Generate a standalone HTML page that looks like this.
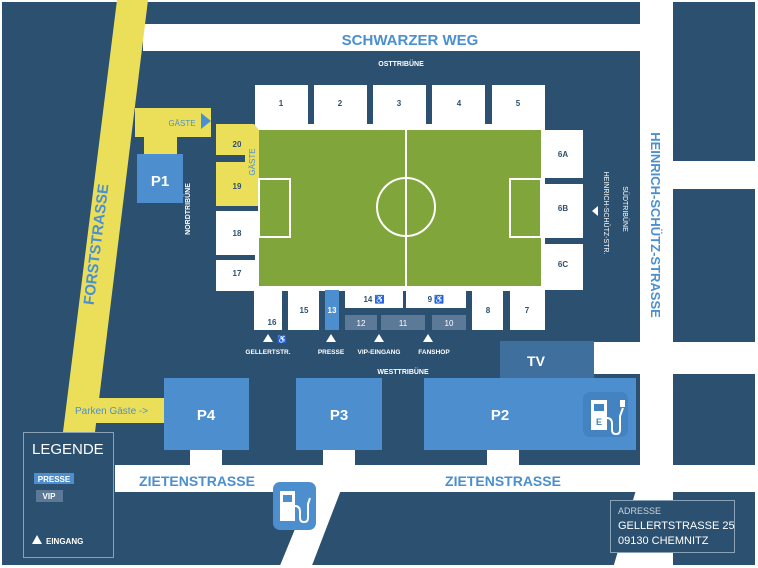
<!DOCTYPE html>
<html><head><meta charset="utf-8"><style>
html,body{margin:0;padding:0;background:#fff;}
svg{display:block;}
text{font-family:"Liberation Sans",sans-serif;}
</style></head><body>
<svg width="758" height="568" viewBox="0 0 758 568" xmlns="http://www.w3.org/2000/svg">
<rect x="0" y="0" width="758" height="568" fill="#fff"/>
<rect x="2" y="2" width="753" height="563" fill="#2c506f"/>
<!-- roads white -->
<rect x="143" y="24" width="497" height="27" fill="#fff"/>
<rect x="640" y="0" width="33" height="568" fill="#fff"/>
<rect x="673" y="161" width="85" height="28" fill="#fff"/>
<rect x="594" y="342" width="164" height="32" fill="#fff"/>
<rect x="115" y="465" width="643" height="27" fill="#fff"/>
<polygon points="311,490 341,490 311,568 279,568" fill="#fff"/>
<polygon points="636,490 671,490 646,568 613,568" fill="#fff"/>
<rect x="190" y="448" width="32" height="18" fill="#fff"/>
<rect x="323" y="448" width="32" height="18" fill="#fff"/>
<rect x="487" y="448" width="32" height="18" fill="#fff"/>
<!-- yellow Forststrasse -->
<polygon points="117,0 148,0 95,432 63,432" fill="#ebdf5a"/>
<rect x="135" y="108" width="76" height="29" fill="#ebdf5a"/>
<rect x="144" y="136" width="33" height="19" fill="#ebdf5a"/>
<polygon points="201,113 211,121 201,129" fill="#4a8fd0"/>
<text x="182" y="126" font-size="8" fill="#4a8fd0" text-anchor="middle">GÄSTE</text>
<rect x="137" y="154" width="46" height="49" fill="#4d8fce"/>
<text x="160" y="186" font-size="15" font-weight="bold" fill="#fff" text-anchor="middle">P1</text>
<text transform="translate(101,245) rotate(-83)" font-size="15" font-weight="bold" fill="#4a8fd0" text-anchor="middle">FORSTSTRASSE</text>
<!-- Parken Gäste -->
<rect x="69" y="398" width="96" height="25" fill="#ebdf5a"/>
<text x="75" y="414" font-size="10" fill="#4a8fd0">Parken Gäste -&gt;</text>
<!-- Schwarzer weg -->
<text x="410" y="45" font-size="15" font-weight="bold" fill="#4a8fd0" text-anchor="middle">SCHWARZER WEG</text>
<text x="401" y="66" font-size="7" font-weight="bold" fill="#fff" text-anchor="middle">OSTTRIBÜNE</text>
<!-- stadium -->
<rect x="255" y="124" width="290" height="167" fill="#fff"/>
<rect x="541" y="130" width="42" height="160" fill="#fff"/>
<rect x="545" y="178" width="38" height="6" fill="#2c506f"/>
<rect x="545" y="238" width="38" height="6" fill="#2c506f"/>
<rect x="216" y="206" width="43" height="85" fill="#fff"/>
<rect x="216" y="255" width="39" height="5" fill="#2c506f"/>
<g fill="#fff">
<rect x="255" y="85" width="53" height="40"/>
<rect x="314" y="85" width="53" height="40"/>
<rect x="373" y="85" width="53" height="40"/>
<rect x="432" y="85" width="53" height="40"/>
<rect x="492" y="85" width="53" height="45"/>
<rect x="254" y="290" width="28" height="40"/>
<rect x="288" y="290" width="31" height="40"/>
<rect x="345" y="290" width="58" height="18"/>
<rect x="406" y="290" width="60" height="18"/>
<rect x="472" y="290" width="31" height="40"/>
<rect x="510" y="290" width="35" height="40"/>
</g>
<rect x="216" y="206" width="43" height="5" fill="#2c506f"/>
<rect x="325" y="290" width="14" height="40" fill="#4d8fce"/>
<rect x="345" y="315" width="32" height="15" fill="#5c7a98"/>
<rect x="381" y="315" width="44" height="15" fill="#5c7a98"/>
<rect x="432" y="315" width="34" height="15" fill="#5c7a98"/>
<!-- yellow guest blocks -->
<polygon points="216,124 254,124 259,130 259,206 216,206" fill="#ebdf5a"/>
<rect x="216" y="155" width="29" height="7" fill="#2c506f"/>
<text transform="translate(255,162) rotate(-90)" font-size="8" fill="#4a8fd0" text-anchor="middle">GÄSTE</text>
<!-- pitch -->
<rect x="259" y="130" width="282" height="156" fill="#80a53a"/>
<g stroke="#fff" stroke-width="2" fill="none">
<line x1="406" y1="130" x2="406" y2="286"/>
<circle cx="406" cy="207" r="29"/>
<rect x="259" y="179" width="31" height="58"/>
<rect x="510" y="179" width="31" height="58"/>
</g>
<g font-size="8" font-weight="bold" fill="#2c506f" text-anchor="middle">
<text x="281" y="106">1</text><text x="340" y="106">2</text><text x="399" y="106">3</text><text x="459" y="106">4</text><text x="518" y="106">5</text>
<text x="563" y="157">6A</text><text x="563" y="211">6B</text><text x="563" y="267">6C</text>
<text x="237" y="147">20</text><text x="237" y="189">19</text><text x="237" y="236">18</text><text x="237" y="276">17</text>
<text x="272" y="325">16</text><text x="304" y="313">15</text><text x="488" y="313">8</text><text x="527" y="313">7</text>
<text x="374" y="302">14 ♿</text><text x="436" y="302">9 ♿</text>
</g>
<text x="332" y="313" font-size="8" font-weight="bold" fill="#fff" text-anchor="middle">13</text>
<g font-size="8" fill="#fff" text-anchor="middle"><text x="361" y="326">12</text><text x="403" y="326">11</text><text x="449" y="326">10</text></g>
<!-- entrances -->
<g fill="#fff">
<polygon points="268,334 273,342 263,342"/><polygon points="331,334 336,342 326,342"/>
<polygon points="379,334 384,342 374,342"/><polygon points="428,334 433,342 423,342"/>
<polygon points="592,211 598,206 598,216"/>
</g>
<g font-size="6.5" font-weight="bold" fill="#fff" text-anchor="middle">
<text x="282" y="342" font-size="8">♿</text>
<text x="268" y="354">GELLERTSTR.</text><text x="331" y="354">PRESSE</text>
<text x="379" y="354">VIP-EINGANG</text><text x="434" y="354">FANSHOP</text>
<text x="403" y="374" font-size="7">WESTTRIBÜNE</text>
</g>
<text transform="translate(190,209) rotate(-90)" font-size="7" font-weight="bold" fill="#fff" text-anchor="middle">NORDTRIBÜNE</text>
<text transform="translate(623,209) rotate(90)" font-size="7" fill="#fff" text-anchor="middle">SÜDTRIBÜNE</text>
<text transform="translate(604,213) rotate(90)" font-size="7" fill="#fff" text-anchor="middle">HEINRICH-SCHÜTZ-STR.</text>
<text transform="translate(651,225) rotate(90)" font-size="13" font-weight="bold" fill="#4a8fd0" text-anchor="middle">HEINRICH-SCHÜTZ-STRASSE</text>
<!-- parking -->
<rect x="500" y="341" width="94" height="38" fill="#3e6f9d"/>
<text x="536" y="366" font-size="14" font-weight="bold" fill="#fff" text-anchor="middle">TV</text>
<rect x="164" y="378" width="85" height="72" fill="#4d8fce"/>
<rect x="296" y="378" width="86" height="72" fill="#4d8fce"/>
<rect x="424" y="378" width="212" height="72" fill="#4d8fce"/>
<g font-size="15" font-weight="bold" fill="#fff" text-anchor="middle">
<text x="206" y="420">P4</text><text x="339" y="420">P3</text><text x="500" y="420">P2</text>
</g>
<!-- fuel icons -->
<g>
<rect x="583" y="392" width="45" height="45" rx="7" fill="#4383c1"/>
<rect x="591" y="400" width="16" height="30" fill="#fff"/>
<rect x="594" y="404" width="10" height="7" fill="#4383c1"/>
<text x="599" y="425" font-size="9" font-weight="bold" fill="#4383c1" text-anchor="middle">E</text>
<path d="M607,418 q5,0 5,6 v6 q0,4 4,4 q4,0 4,-4 v-14 l3,-8" stroke="#fff" stroke-width="2" fill="none"/>
<rect x="620" y="400" width="5" height="7" fill="#fff"/>
</g>
<g>
<rect x="273" y="482" width="43" height="48" rx="7" fill="#4d8fce"/>
<rect x="280" y="491" width="15" height="30" fill="#fff"/>
<rect x="283" y="495" width="9" height="7" fill="#4d8fce"/>
<path d="M295,506 q5,0 5,6 v6 q0,4 4,4 q4,0 4,-4 v-14 l2,-6" stroke="#fff" stroke-width="2" fill="none"/>
</g>
<g font-size="14" font-weight="bold" fill="#4a8fd0" text-anchor="middle">
<text x="197" y="486">ZIETENSTRASSE</text><text x="503" y="486">ZIETENSTRASSE</text>
</g>
<!-- legend -->
<rect x="23.5" y="432.5" width="90" height="125" fill="#2c506f" stroke="#8aa2b8" stroke-width="1"/>
<text x="32" y="454" font-size="15" fill="#fff" font-weight="300">LEGENDE</text>
<rect x="34" y="473" width="40" height="11" fill="#4d8fce"/>
<text x="54" y="482" font-size="8" font-weight="bold" fill="#fff" text-anchor="middle">PRESSE</text>
<rect x="36" y="490" width="27" height="12" fill="#5c7a98"/>
<text x="49" y="499" font-size="8" font-weight="bold" fill="#fff" text-anchor="middle">VIP</text>
<polygon points="37,535 42,544 32,544" fill="#fff"/>
<text x="46" y="544" font-size="8" font-weight="bold" fill="#fff">EINGANG</text>
<!-- address -->
<rect x="610.5" y="500.5" width="124" height="52" fill="#2c506f" stroke="#8aa2b8" stroke-width="1"/>
<text x="618" y="514" font-size="9" fill="#c8d3de">ADRESSE</text>
<text x="618" y="529" font-size="11" fill="#fff">GELLERTSTRASSE 25</text>
<text x="618" y="544" font-size="11" fill="#fff">09130 CHEMNITZ</text>
</svg>
</body></html>
